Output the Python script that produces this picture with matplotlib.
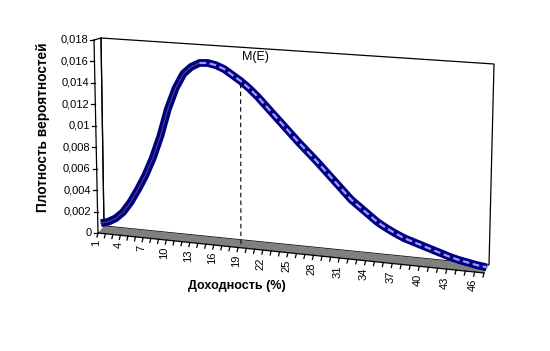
import numpy as np
import matplotlib
matplotlib.use("Agg")
import matplotlib.pyplot as plt
import matplotlib.transforms as mtransforms
from matplotlib.patches import Polygon

plt.rcParams['font.family'] = ['Liberation Sans', 'DejaVu Sans']

# --- data (return, %, vs probability density) ---
categories = np.arange(1, 48)
density = np.array([
    0.60, 0.80, 1.20, 1.85, 2.85, 4.10, 5.50, 7.20, 9.30, 11.90,
    13.90, 15.30, 16.00, 16.40, 16.45, 16.30, 16.00, 15.50, 15.00, 14.40,
    13.70, 12.90, 12.10, 11.30, 10.50, 9.70, 8.95, 8.20, 7.40, 6.60,
    5.80, 5.00, 4.40, 3.80, 3.20, 2.75, 2.35, 2.00, 1.75, 1.50,
    1.25, 1.00, 0.75, 0.55, 0.40, 0.25, 0.15]) / 1000
mean_category = 19
y_ticks = np.arange(0, 0.0181, 0.002)
x_tick_labels = categories[::3]

V_MAX = 0.018

# 3d box of the excel chart, corners in pixels (bl, br, tl, tr)
FRONT = np.array([[98, 233], [484, 273], [94, 40], [489, 66]], float)
BACK = np.array([[104, 226], [489, 265], [101, 38], [494, 64]], float)
# perspective along the category axis
PERSP_A, PERSP_B = 0.019156, 5.616e-5


class BoxProjection(mtransforms.Transform):
    """(category, value) on a plane at some depth of the box -> pixels"""
    input_dims = 2
    output_dims = 2

    def __init__(self, plane):
        super().__init__()
        self.plane = plane

    def transform_non_affine(self, values):
        values = np.asarray(values, float)
        t = values[:, 0] - categories[0]
        u = PERSP_A * t + PERSP_B * t ** 2
        s = values[:, 1] / V_MAX
        bl, br, tl, tr = FRONT + (BACK - FRONT) * self.plane
        bottom = bl + np.outer(u, br - bl)
        top = tl + np.outer(u, tr - tl)
        return bottom + (top - bottom) * s[:, None]


fig = plt.figure(figsize=(5.5, 3.51), dpi=100)
ax = fig.add_axes([0, 0, 1, 1])
ax.set_autoscale_on(False)
ax.set_xlim(0, 550)
ax.set_ylim(351, 0)
ax.axis('off')

front = BoxProjection(0.0) + ax.transData
mid = BoxProjection(0.5) + ax.transData
back = BoxProjection(1.0) + ax.transData
to_px = ax.transData.inverted()

c0, c1 = categories[0], categories[-1]
lw = 0.9

# back wall
ax.add_patch(Polygon([(c0, 0), (c1, 0), (c1, V_MAX), (c0, V_MAX)],
                     closed=True, facecolor='white', edgecolor='black',
                     lw=lw, transform=back))
# left side wall
ax.plot([c0, c0], [0, V_MAX], color='black', lw=lw, transform=back)
ax.plot([c0, c0], [0, V_MAX], color='black', lw=lw, transform=front)
top_l = to_px.transform([front.transform((c0, V_MAX)),
                         back.transform((c0, V_MAX))])
ax.plot(top_l[:, 0], top_l[:, 1], color='black', lw=lw)

# floor
fl = to_px.transform([front.transform((c0, 0)), front.transform((c1, 0)),
                      back.transform((c1, 0)), back.transform((c0, 0))])
ax.add_patch(Polygon(fl, closed=True, facecolor='#808080', edgecolor='none'))
ax.plot([c0, c1], [0, 0], color='black', lw=lw, transform=front)

# category ticks and labels
for c in categories:
    p0 = to_px.transform(front.transform((c, 0)))
    ax.plot([p0[0], p0[0] - 1], [p0[1], p0[1] + 4], color='black', lw=lw)
lab_off = mtransforms.Affine2D().translate(-2, 7)
for c in x_tick_labels:
    ax.text(c, 0, str(c), rotation=90, ha='center', va='top', fontsize=8,
            transform=BoxProjection(0.0) + lab_off + ax.transData)

# value axis ticks and labels
for v in y_ticks:
    p0 = to_px.transform(front.transform((c0, v)))
    ax.plot([p0[0] - 4, p0[0]], [p0[1], p0[1]], color='black', lw=lw)
    label = '0' if v == 0 else ('%g' % round(v, 3)).replace('.', ',')
    ax.text(p0[0] - 6, p0[1], label, ha='right', va='center', fontsize=8)

# curve as excel 3d ribbon
ax.plot(categories, density, color='#000080', lw=5.6,
        solid_capstyle='butt', solid_joinstyle='round', transform=mid)
k = 13
ax.plot(categories[:k + 1], density[:k + 1], color='#4a4a70', lw=0.8,
        transform=mid)
ax.plot(categories[k:], density[k:], color='#9c9cff', lw=1.6,
        dashes=(3, 1.6), transform=mid)

# mean return marker
i = mean_category - 1
ax.plot([mean_category, mean_category], [0, density[i] - 0.0004],
        color='black', lw=0.8, dashes=(4, 3), transform=mid)
ax.text(mean_category + 0.2, 0.0172, 'M(E)', ha='left', va='center',
        fontsize=9, transform=mid)

fig.text(43 / 550, 1 - 127 / 351, 'Плотность вероятностей', rotation=90,
         ha='center', va='center', fontsize=9.8, fontweight='bold')
fig.text(237 / 550, 1 - 286 / 351, 'Доходность (%)', ha='center',
         va='center', fontsize=9, fontweight='bold')

fig.savefig('out.png', dpi=100, facecolor='white')
